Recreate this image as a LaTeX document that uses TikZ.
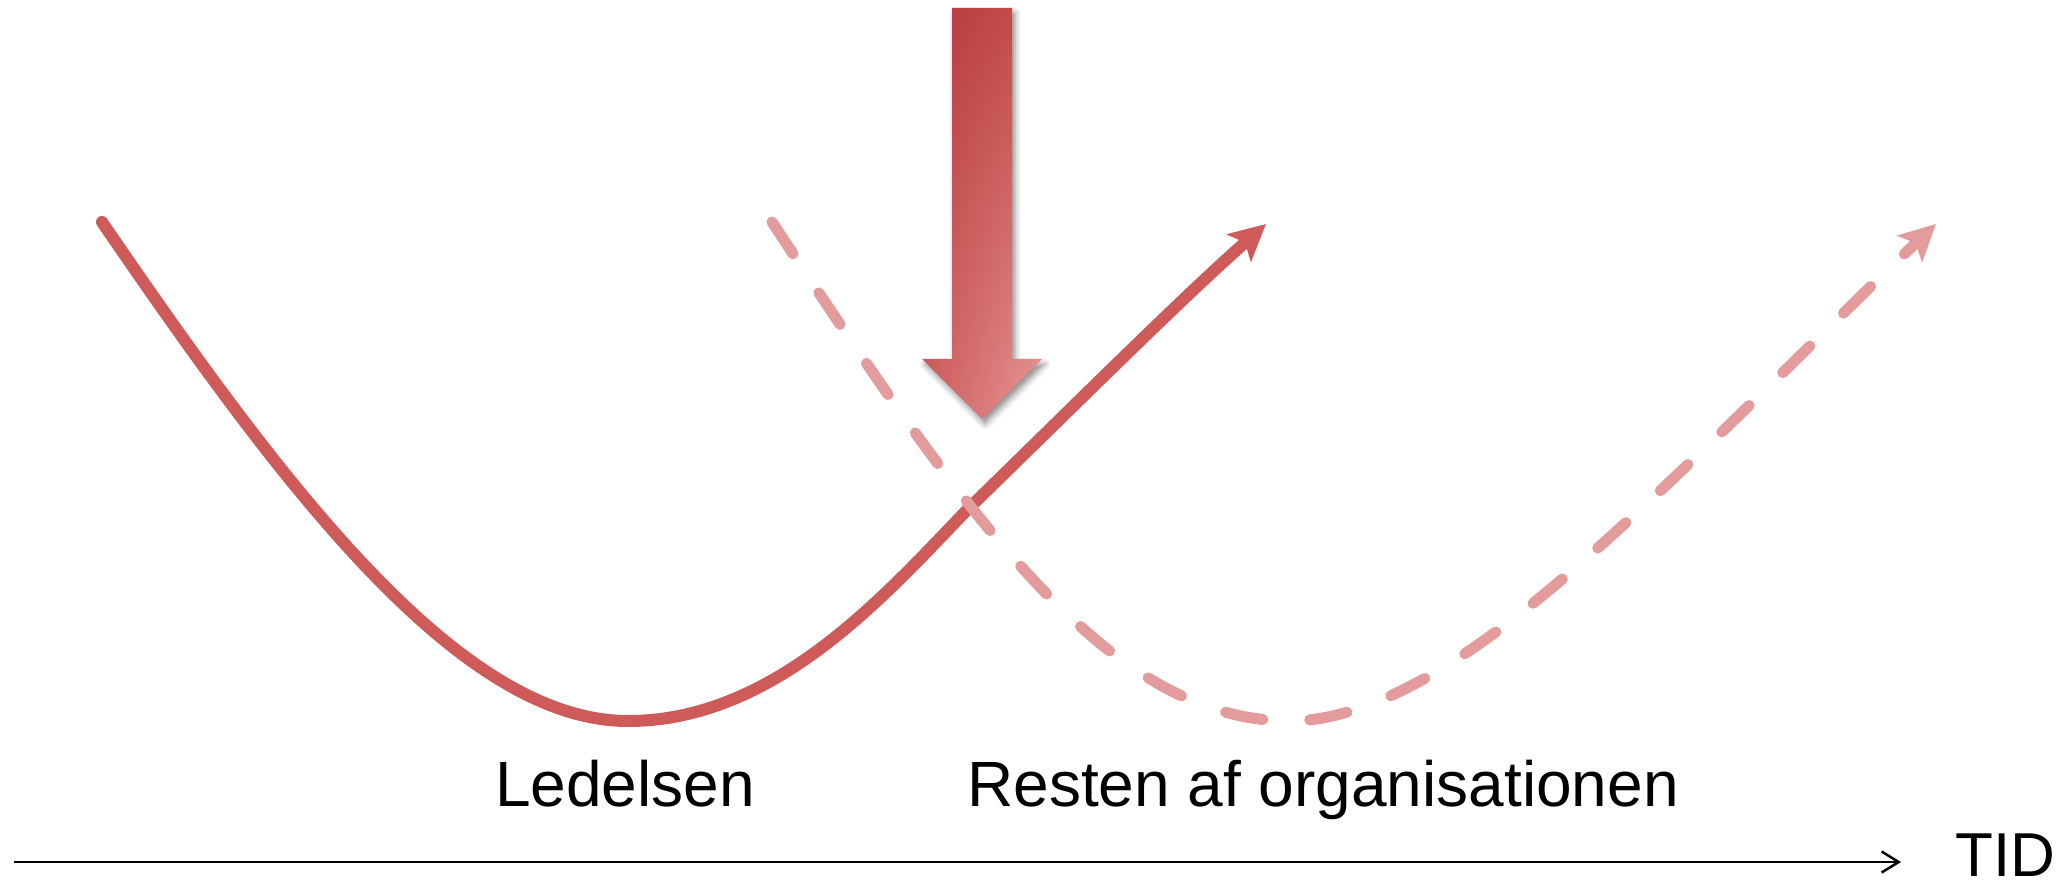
\documentclass[tikz,border=0pt]{standalone}
\usepackage{fontspec}
\setmainfont{Liberation Sans}
\usetikzlibrary{arrows.meta,shadows.blur,shadings}
\definecolor{solidred}{RGB}{207,90,90}
\definecolor{dashpink}{RGB}{228,155,155}
\definecolor{arUL}{RGB}{179,58,58}
\definecolor{arUR}{RGB}{200,80,80}
\definecolor{arLL}{RGB}{208,94,94}
\definecolor{arLR}{RGB}{230,152,152}
\begin{document}
\begin{tikzpicture}[x=1pt,y=-1pt,
  solidcurve/.style={draw=solidred, line width=12pt, line cap=round,
    -{Stealth[length=36pt,width=36pt,inset=8pt]}},
  dashcurve/.style={draw=dashpink, line width=11pt, line cap=round,
    dash pattern=on 38pt off 47pt,
    -{Stealth[length=36pt,width=36pt,inset=8pt]}},
  bigarrow/.style={upper left=arUL, upper right=arUR, lower left=arLL, lower right=arLR,
    blur shadow={shadow xshift=3pt, shadow yshift=-5pt, shadow blur radius=6pt, shadow opacity=45}},
  axisline/.style={draw=black, line width=2.5pt, -{Straight Barb[length=17pt,width=21pt]}},
  label/.style={inner sep=0pt, anchor=base, font=\fontsize{64}{72}\selectfont}
]
\useasboundingbox (0,0) rectangle (2070,882);
% solid curve (Ledelsen)
\coordinate (a0) at (102,222);
\coordinate (a1) at (628,721);
\coordinate (a2) at (967,510);
\coordinate (a3) at (1266,224);
\draw[solidcurve] (a0) .. controls (280,482) and (458,721) .. (a1)
   .. controls (775,721) and (885,595) .. (a2)
   .. controls (1080,400) and (1180,300) .. (a3);
% dashed curve (Resten af organisationen)
\coordinate (b0) at (772,222);
\coordinate (b1) at (1290,721);
\coordinate (b2) at (1620,528);
\coordinate (b3) at (1936,224);
\draw[dashcurve] (b0) .. controls (962,510) and (1105,721) .. (b1)
   .. controls (1400,721) and (1530,610) .. (b2)
   .. controls (1720,437) and (1850,305) .. (b3);
% big arrow
\shade[bigarrow] (952,8) -- (1012,8) -- (1012,359) -- (1042,359) -- (982,419)
   -- (922,359) -- (952,359) -- cycle;
% time axis
\coordinate (t0) at (14,862);
\coordinate (t1) at (1901,862);
\draw[axisline] (t0) -- (t1);
\node[label, anchor=base west, font=\fontsize{62}{70}\selectfont] (tid) at (1955,876) {TID};
\node[label] (led) at (625,806) {Ledelsen};
\node[label] (rest) at (1323,806) {Resten af organisationen};
\end{tikzpicture}
\end{document}
